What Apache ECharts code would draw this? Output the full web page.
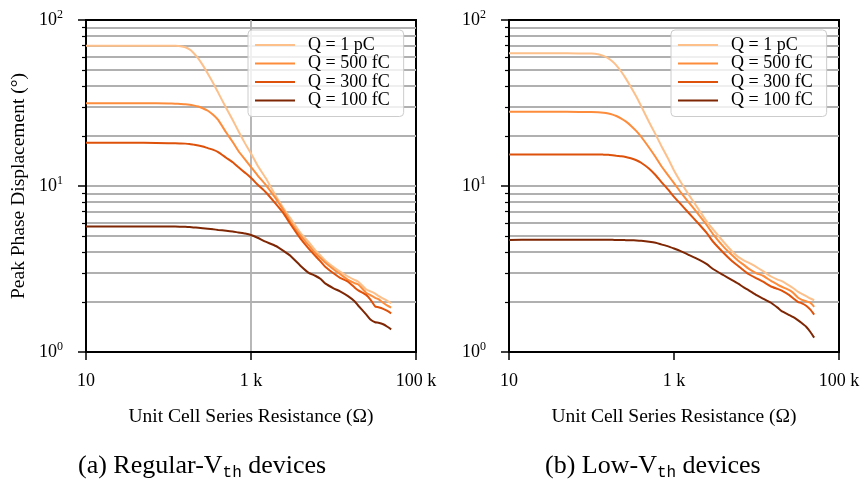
<!DOCTYPE html>
<html>
<head>
<meta charset="utf-8">
<script src="https://cdn.jsdelivr.net/npm/echarts@6/dist/echarts.min.js"></script>
<style>
  html, body { margin: 0; padding: 0; background: #ffffff; }
  #chart { width: 864px; height: 480px; }
</style>
</head>
<body>
<div id="chart"></div>
<script>
// Unit cell series resistance (Ω) sampled on both panels
const resistance = [10, 20, 50,
  100, 120, 140, 160, 180, 200, 230, 260, 300, 350, 400, 500, 600, 700, 850, 1000, 1200, 1500, 2000,
  2500, 3000, 4000, 5000, 6000, 7000, 8000, 10000, 12000, 15000, 18000, 20000, 25000, 28000, 32000, 35000, 40000, 45000, 50000];

const seriesNames = ['Q = 1 pC', 'Q = 500 fC', 'Q = 300 fC', 'Q = 100 fC'];
const seriesColors = ['#fdc08b', '#fd8d3c', '#de510a', '#7f2704'];

// (a) Regular-Vth devices: peak phase displacement (°)
const regular1pC = [70, 70, 70,
  70, 69.9, 69.5, 68.5, 66.5, 63.5, 58.5, 53.5, 47.5, 41.5, 36.5, 29.5, 25, 21.5, 18, 15.7, 13.3, 11.2, 8.7,
  7.3, 6.4, 5.2, 4.6, 4.1, 3.8, 3.55, 3.25, 3.05, 2.85, 2.72, 2.65, 2.38, 2.32, 2.25, 2.18, 2.1, 2.03, 1.97];
const regular500fC = [31.5, 31.5, 31.5,
  31.4, 31.3, 31.2, 31.1, 30.9, 30.6, 30.1, 29.4, 28.4, 26.8, 25, 21, 18.4, 16.3, 14.4, 13.0, 11.6, 10.2, 8.4,
  7.1, 6.1, 5.0, 4.4, 3.95, 3.67, 3.45, 3.15, 2.95, 2.72, 2.6, 2.55, 2.27, 2.2, 2.12, 2.08, 1.98, 1.9, 1.85];
const regular300fC = [18.2, 18.2, 18.2,
  18.1, 18.1, 18.05, 18.0, 17.9, 17.75, 17.55, 17.3, 16.9, 16.5, 16.0, 14.8, 13.9, 13.0, 12.0, 11.2, 10.2, 9.2, 7.8,
  6.8, 5.9, 4.8, 4.2, 3.8, 3.5, 3.25, 2.98, 2.8, 2.65, 2.45, 2.35, 2.2, 2.07, 1.88, 1.86, 1.82, 1.77, 1.71];
const regular100fC = [5.7, 5.7, 5.7,
  5.7, 5.7, 5.69, 5.68, 5.66, 5.63, 5.6, 5.57, 5.53, 5.48, 5.44, 5.38, 5.32, 5.25, 5.17, 5.07, 4.88, 4.62, 4.35,
  4.05, 3.8, 3.3, 3.0, 2.88, 2.75, 2.58, 2.42, 2.32, 2.17, 2.02, 1.9, 1.68, 1.57, 1.51, 1.5, 1.47, 1.42, 1.37];

// (b) Low-Vth devices: peak phase displacement (°)
const low1pC = [63, 63, 63,
  62.8, 62.2, 60.8, 58.8, 56.2, 53.3, 48.8, 44.5, 39.5, 34.5, 30.3, 24.2, 20.4, 17.5, 14.6, 12.4, 10.6, 8.9, 7.2,
  6.1, 5.45, 4.6, 4.06, 3.74, 3.57, 3.45, 3.25, 3.07, 2.85, 2.73, 2.68, 2.51, 2.42, 2.3, 2.25, 2.17, 2.1, 2.05];
const low500fC = [28, 28, 28,
  27.9, 27.8, 27.6, 27.3, 26.9, 26.4, 25.5, 24.5, 23.1, 21.4, 19.8, 17, 14.9, 13.2, 11.6, 10.4, 9.2, 8.0, 6.7,
  5.8, 5.1, 4.3, 3.85, 3.55, 3.35, 3.18, 2.98, 2.88, 2.68, 2.55, 2.48, 2.36, 2.27, 2.12, 2.07, 2.02, 1.98, 1.87];
const low300fC = [15.5, 15.5, 15.5,
  15.5, 15.5, 15.45, 15.4, 15.3, 15.2, 15.1, 14.95, 14.7, 14.3, 13.8, 12.7, 11.6, 10.6, 9.5, 8.6, 7.8, 6.9, 5.9,
  5.2, 4.6, 3.95, 3.55, 3.3, 3.1, 2.95, 2.78, 2.65, 2.48, 2.4, 2.35, 2.2, 2.1, 2.0, 1.97, 1.9, 1.8, 1.68];
const low100fC = [4.73, 4.75, 4.75,
  4.75, 4.75, 4.75, 4.74, 4.74, 4.73, 4.73, 4.72, 4.71, 4.7, 4.68, 4.62, 4.55, 4.45, 4.33, 4.2, 4.05, 3.85, 3.6,
  3.38, 3.15, 2.9, 2.72, 2.58, 2.45, 2.36, 2.2, 2.1, 1.98, 1.85, 1.77, 1.67, 1.62, 1.55, 1.5, 1.42, 1.32, 1.22];

// Axis ticks
const xTickValues = [10, 1000, 100000];
const xTickLabels = ['10', '1 k', '100 k'];
const yMajorValues = [1, 10, 100];
const yMinorValues = [2, 3, 4, 5, 6, 7, 8, 9, 20, 30, 40, 50, 60, 70, 80, 90];

const xAxisTitle = 'Unit Cell Series Resistance (Ω)';
const yAxisTitle = 'Peak Phase Displacement (°)';

const FONT = 'Liberation Serif';
const GRID_COLOR = '#b0b0b0';

const panels = [
  { left: 86, series: [regular1pC, regular500fC, regular300fC, regular100fC], xGrid: true, yName: yAxisTitle,
    caption: '(a) Regular-V{sub|th} devices', captionLeft: 78 },
  { left: 509, series: [low1pC, low500fC, low300fC, low100fC], xGrid: false, yName: '',
    caption: '(b) Low-V{sub|th} devices', captionLeft: 545 }
];

function xLabel(v) {
  let best = 0;
  for (let i = 1; i < xTickValues.length; i++) {
    if (Math.abs(Math.log10(v) - Math.log10(xTickValues[i])) < Math.abs(Math.log10(v) - Math.log10(xTickValues[best]))) best = i;
  }
  return xTickLabels[best];
}

function yLabel(v) {
  const e = Math.round(Math.log10(v));
  return '{b|10}{s|' + e + '}';
}

const grid = [], xAxis = [], yAxis = [], series = [], legend = [], title = [];

panels.forEach((p, k) => {
  grid.push({ left: p.left, top: 20, width: 330, height: 332, show: true,
    borderColor: '#000', borderWidth: 2, backgroundColor: 'transparent', containLabel: false });

  xAxis.push({
    type: 'log', logBase: 10, gridIndex: k, min: 10, max: 100000,
    name: xAxisTitle, nameLocation: 'middle', nameGap: 55,
    nameTextStyle: { fontFamily: FONT, fontSize: 19.5, color: '#000' },
    axisLine: { show: true, onZero: false, lineStyle: { color: '#000', width: 2 } },
    axisTick: { show: true, customValues: xTickValues, length: 8, lineStyle: { color: '#000', width: 1.5 } },
    axisLabel: { show: true, customValues: xTickValues, formatter: xLabel, margin: 20,
      fontFamily: FONT, fontSize: 18, color: '#000' },
    splitLine: { show: p.xGrid, showMinLine: false, showMaxLine: false,
      lineStyle: { color: GRID_COLOR, width: 1.8 } },
    minorTick: { show: false }, minorSplitLine: { show: false }
  });

  // major decades with labels
  yAxis.push({
    type: 'log', logBase: 10, gridIndex: k, min: 1, max: 100, position: 'left',
    name: p.yName, nameLocation: 'middle', nameGap: 57,
    nameTextStyle: { fontFamily: FONT, fontSize: 19.5, color: '#000' },
    axisLine: { show: true, onZero: false, lineStyle: { color: '#000', width: 2 } },
    axisTick: { show: true, customValues: yMajorValues, length: 8, lineStyle: { color: '#000', width: 1.5 } },
    axisLabel: { show: true, customValues: yMajorValues, formatter: yLabel, margin: 23,
      color: '#000',
      rich: {
        b: { fontFamily: FONT, fontSize: 18, color: '#000', lineHeight: 22 },
        s: { fontFamily: FONT, fontSize: 12, color: '#000', lineHeight: 12, verticalAlign: 'top' }
      } },
    splitLine: { show: true, showMinLine: false, showMaxLine: false,
      lineStyle: { color: GRID_COLOR, width: 1.8 } }
  });
  // minor subdivisions: short ticks and grid lines
  yAxis.push({
    type: 'log', logBase: 10, gridIndex: k, min: 1, max: 100, position: 'left',
    axisLine: { show: false },
    axisTick: { show: true, customValues: yMinorValues, length: 4, lineStyle: { color: '#000', width: 1.2 } },
    axisLabel: { show: false },
    splitLine: { show: true, lineStyle: { color: GRID_COLOR, width: 1.8 } }
  });

  p.series.forEach((vals, i) => {
    series.push({
      name: seriesNames[i], type: 'line', xAxisIndex: k, yAxisIndex: k * 2,
      data: resistance.map((r, j) => [r, vals[j]]),
      showSymbol: false, symbol: 'none', smooth: 0.15,
      lineStyle: { color: seriesColors[i], width: 2 }, itemStyle: { color: seriesColors[i] },
      animation: false, z: 3
    });
  });

  legend.push({
    data: seriesNames, orient: 'vertical', left: p.left + 162, top: 30,
    itemWidth: 40, itemHeight: 14, itemGap: 0.5,
    padding: [6, 14, 7, 6],
    itemStyle: { opacity: 0 },
    lineStyle: { width: 2 },
    backgroundColor: 'rgba(255,255,255,0.8)', borderColor: '#cccccc', borderWidth: 1, borderRadius: 4,
    textStyle: { fontFamily: FONT, fontSize: 18, lineHeight: 18, color: '#000', padding: [0, 0, 0, 8] },
    selectedMode: false
  });

  title.push({
    text: p.caption, left: p.captionLeft, top: 451, padding: 0,
    textStyle: { fontFamily: FONT, fontSize: 26, fontWeight: 'normal', color: '#000', lineHeight: 30,
      rich: { sub: { fontFamily: 'Liberation Mono', fontSize: 16, lineHeight: 16, verticalAlign: 'bottom', color: '#000' } } }
  });
});

const chart = echarts.init(document.getElementById('chart'), null, { renderer: 'canvas' });
chart.setOption({
  animation: false,
  backgroundColor: '#ffffff',
  title, grid, xAxis, yAxis, series, legend
});
</script>
</body>
</html>
